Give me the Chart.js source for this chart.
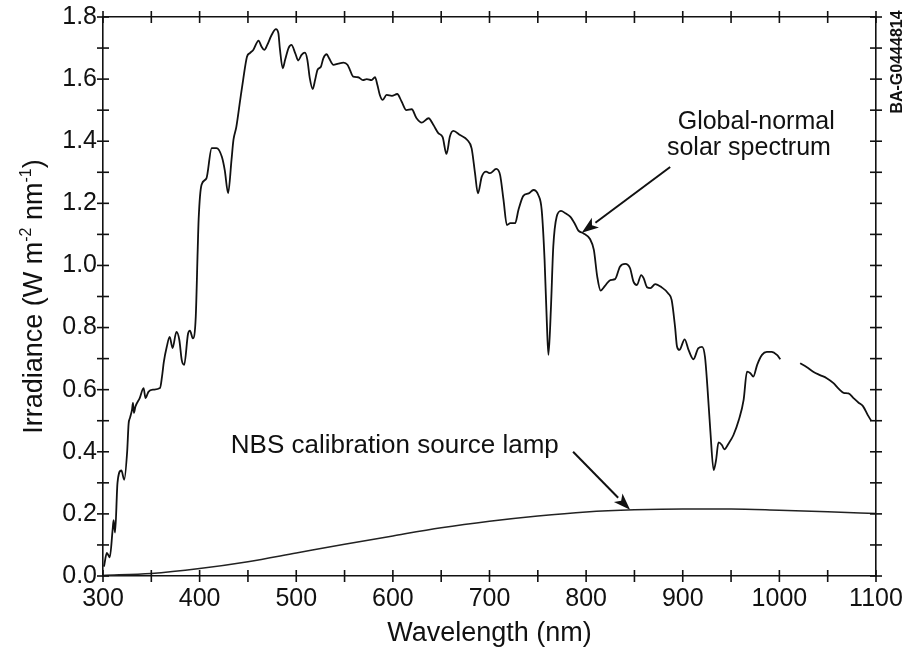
<!DOCTYPE html>
<html><head><meta charset="utf-8">
<script src="https://cdn.jsdelivr.net/npm/chart.js@4.4.1/dist/chart.umd.min.js"></script>
<style>html,body{margin:0;padding:0;background:#fff;overflow:hidden}canvas{display:block}</style>
</head><body>
<canvas id="c" width="906" height="652"></canvas>
<script>
// ---- data ----
const solarWavelength = [301,304,307,310,311,312.5,315,319,322,325,326.5,328,330,331,332,333.5,338,342,344,347,352,359,361,363,366,369,372,376,379,381.5,384,388,390,393,396,398,399,402,407,412.5,417.5,423,426,429.5,433,435,438,442,445,449,452,455.5,461,464,467,470,474.5,479,481.5,483,486,488.5,492,495,499,502,505.5,509,511.5,514,517,519.5,522,525.5,528,531.5,534,538.5,543.5,549,553,555.5,559,564,569,573,578,581.5,584,586.5,589.5,593.5,599,604.5,609,614,619.5,624.5,630,637,642,647,651.5,655.5,659,662.5,669.5,677,681.5,685,688,692,696.5,700.5,707,711,714.5,718,721.5,726.5,730,735,740.5,745.5,750.5,754,757,759.5,761,763.5,766,769.5,774,778.5,783.5,788,792,797,804,808,811.5,815,819.5,825,830,835,840.5,845.5,849,852.5,857,859.5,863,866.5,871.5,878,885,888.5,892,894,896.5,902,906,911,916,920,923,925.5,928.5,932,934.5,937,940.5,943,947.5,952.5,958,963,966.5,970,973,977,982,987,992,997.5,1001,1010,1021.5,1028.5,1035,1042,1049,1056,1061,1066.5,1071.5,1077,1082,1086.5,1091.5,1095];
const solarIrradiance = [0.03,0.074,0.06,0.15,0.18,0.14,0.30,0.34,0.31,0.40,0.49,0.51,0.535,0.557,0.525,0.545,0.573,0.605,0.573,0.593,0.600,0.605,0.640,0.690,0.738,0.770,0.734,0.786,0.760,0.695,0.680,0.780,0.790,0.765,0.835,1.050,1.150,1.260,1.280,1.378,1.378,1.350,1.307,1.233,1.340,1.404,1.446,1.533,1.597,1.672,1.684,1.694,1.724,1.705,1.694,1.710,1.742,1.761,1.748,1.700,1.635,1.662,1.700,1.710,1.683,1.660,1.678,1.685,1.662,1.603,1.568,1.597,1.630,1.640,1.667,1.680,1.667,1.646,1.650,1.653,1.646,1.630,1.608,1.606,1.597,1.600,1.597,1.606,1.581,1.549,1.533,1.549,1.546,1.552,1.528,1.500,1.503,1.474,1.460,1.474,1.452,1.426,1.413,1.359,1.415,1.433,1.420,1.404,1.377,1.297,1.232,1.286,1.302,1.297,1.311,1.291,1.211,1.130,1.136,1.136,1.179,1.224,1.232,1.243,1.227,1.179,1.018,0.803,0.712,0.857,1.060,1.157,1.176,1.168,1.157,1.136,1.112,1.104,1.085,1.050,0.964,0.919,0.934,0.953,0.956,0.996,1.005,0.991,0.948,0.937,0.969,0.959,0.930,0.927,0.940,0.930,0.910,0.889,0.803,0.740,0.728,0.762,0.728,0.698,0.733,0.738,0.706,0.610,0.470,0.341,0.374,0.430,0.422,0.408,0.427,0.454,0.502,0.567,0.658,0.653,0.642,0.680,0.712,0.722,0.722,0.712,0.698,null,0.685,0.672,0.658,0.647,0.637,0.621,0.604,0.590,0.588,0.572,0.558,0.547,0.518,0.500];
const lampWavelength = [300,350,400,450,500,550,600,650,700,750,800,850,900,950,1000,1050,1100];
const lampIrradiance = [0.002,0.008,0.024,0.046,0.074,0.102,0.129,0.155,0.176,0.193,0.206,0.213,0.216,0.216,0.212,0.207,0.201];

const xMajorTicks = [300,400,500,600,700,800,900,1000,1100];
const xTickLabels = ['300','400','500','600','700','800','900','1000','1100'];
const xMinorTicks = [350,450,550,650,750,850,950,1050];
const yMajorTicks = [0,0.2,0.4,0.6,0.8,1.0,1.2,1.4,1.6,1.8];
const yTickLabels = ['0.0','0.2','0.4','0.6','0.8','1.0','1.2','1.4','1.6','1.8'];
const yMinorTicks = [0.1,0.3,0.5,0.7,0.9,1.1,1.3,1.5,1.7];

const xTitle = 'Wavelength (nm)';
const yTitleParts = [['Irradiance (W m',0],['-2',1],[' nm',0],['-1',1],[')',0]];
const solarLabel = ['Global-normal','solar spectrum'];
const lampLabel = 'NBS calibration source lamp';
const figId = 'BA-G0444814';

// ---- chart ----
const FONT = "'Liberation Sans', Arial, Helvetica, sans-serif";
Chart.defaults.font.family = FONT;
Chart.defaults.color = '#111';

function toPts(xs, ys){ return xs.map((v,i)=>({x:v, y:ys[i]})); }

function line(ctx,x1,y1,x2,y2){ctx.beginPath();ctx.moveTo(x1,y1);ctx.lineTo(x2,y2);ctx.stroke();}
function arrow(ctx,x1,y1,x2,y2){
  const ang=Math.atan2(y2-y1,x2-x1), L=17, W=6;
  const bx=x2-L*Math.cos(ang), by=y2-L*Math.sin(ang);
  line(ctx,x1,y1,bx,by);
  ctx.beginPath();
  ctx.moveTo(x2,y2);
  ctx.lineTo(bx+W*Math.sin(ang), by-W*Math.cos(ang));
  ctx.lineTo(bx+L*0.25*Math.cos(ang), by+L*0.25*Math.sin(ang));
  ctx.lineTo(bx-W*Math.sin(ang), by+W*Math.cos(ang));
  ctx.closePath(); ctx.fill();
}

const decor = {
  id:'decor',
  afterDraw(chart){
    const {ctx, chartArea:a} = chart;
    const x = chart.scales.x, y = chart.scales.y;
    ctx.save();
    ctx.strokeStyle='#111'; ctx.fillStyle='#111'; ctx.lineWidth=1.6;
    const T=6;
    xMajorTicks.concat(xMinorTicks).forEach(v=>{
      const px=x.getPixelForValue(v);
      line(ctx,px,a.bottom-T,px,a.bottom+T);
      line(ctx,px,a.top-T,px,a.top+T);
    });
    yMajorTicks.concat(yMinorTicks).forEach(v=>{
      const py=y.getPixelForValue(v);
      line(ctx,a.left-T,py,a.left+T,py);
      line(ctx,a.right-T,py,a.right+T,py);
    });
    // y-axis title with superscripts
    ctx.save();
    const cy=(a.top+a.bottom)/2;
    ctx.translate(42, cy);
    ctx.rotate(-Math.PI/2);
    const big='27px '+FONT, small='16px '+FONT;
    let tot=0;
    yTitleParts.forEach(([t,s])=>{ctx.font=s?small:big; tot+=ctx.measureText(t).width;});
    let cx=-tot/2;
    ctx.textBaseline='alphabetic'; ctx.textAlign='left';
    yTitleParts.forEach(([t,s])=>{
      ctx.font=s?small:big;
      ctx.fillText(t,cx,s?-11:0);
      cx+=ctx.measureText(t).width;
    });
    ctx.restore();
    // annotations
    ctx.font='25px '+FONT; ctx.textAlign='center'; ctx.textBaseline='alphabetic';
    ctx.fillText(solarLabel[0], x.getPixelForValue(976), y.getPixelForValue(1.44));
    ctx.fillText(solarLabel[1], x.getPixelForValue(968.5), y.getPixelForValue(1.355));
    ctx.font='26px '+FONT;
    ctx.fillText(lampLabel, x.getPixelForValue(602), y.getPixelForValue(0.396));
    ctx.lineWidth=2;
    arrow(ctx, x.getPixelForValue(887), y.getPixelForValue(1.317), x.getPixelForValue(795.5), y.getPixelForValue(1.105));
    arrow(ctx, x.getPixelForValue(786.5), y.getPixelForValue(0.40), x.getPixelForValue(845.5), y.getPixelForValue(0.213));
    // figure id
    ctx.save();
    ctx.translate(898, 62);
    ctx.rotate(-Math.PI/2);
    ctx.font='bold 16px '+FONT; ctx.textAlign='center'; ctx.textBaseline='middle';
    ctx.fillText(figId,0,0);
    ctx.restore();
    ctx.restore();
  }
};

const noGrid = {display:false, drawTicks:false};
const border = {display:true, color:'#111', width:1.6};
function zeroPad(s){ s.paddingLeft=0; s.paddingRight=0; s.paddingTop=0; s.paddingBottom=0; }

new Chart(document.getElementById('c'), {
  type:'line',
  data:{datasets:[
    {data:toPts(solarWavelength, solarIrradiance), borderColor:'#111', borderWidth:1.8, pointRadius:0, cubicInterpolationMode:'monotone', spanGaps:false},
    {data:toPts(lampWavelength, lampIrradiance), borderColor:'#222', borderWidth:1.5, pointRadius:0, cubicInterpolationMode:'monotone'}
  ]},
  options:{
    responsive:false, animation:false,
    layout:{padding:0},
    plugins:{legend:{display:false}, tooltip:{enabled:false}},
    scales:{
      x:{type:'linear', position:'bottom', min:300, max:1100,
         afterBuildTicks:s=>{s.ticks=xMajorTicks.map(v=>({value:v}));},
         afterFit:s=>{s.height=76; zeroPad(s);},
         grid:noGrid, border:border,
         ticks:{autoSkip:false, maxRotation:0, padding:8, color:'#111', font:{size:25}, callback:(v,i)=>xTickLabels[i]},
         title:{display:true, text:xTitle, color:'#111', font:{size:27}, padding:{top:0,bottom:2}}},
      x2:{type:'linear', position:'top', min:300, max:1100,
         afterFit:s=>{s.height=17; zeroPad(s);}, grid:noGrid, border:border, ticks:{display:false}},
      y:{type:'linear', position:'left', min:0, max:1.8,
         afterBuildTicks:s=>{s.ticks=yMajorTicks.map(v=>({value:v}));},
         afterFit:s=>{s.width=103; zeroPad(s);},
         grid:noGrid, border:border,
         ticks:{padding:6, color:'#111', font:{size:25}, callback:(v,i)=>yTickLabels[i]}},
      y2:{type:'linear', position:'right', min:0, max:1.8,
         afterFit:s=>{s.width=30; zeroPad(s);}, grid:noGrid, border:border, ticks:{display:false}}
    }
  },
  plugins:[decor]
});
</script>
</body></html>
